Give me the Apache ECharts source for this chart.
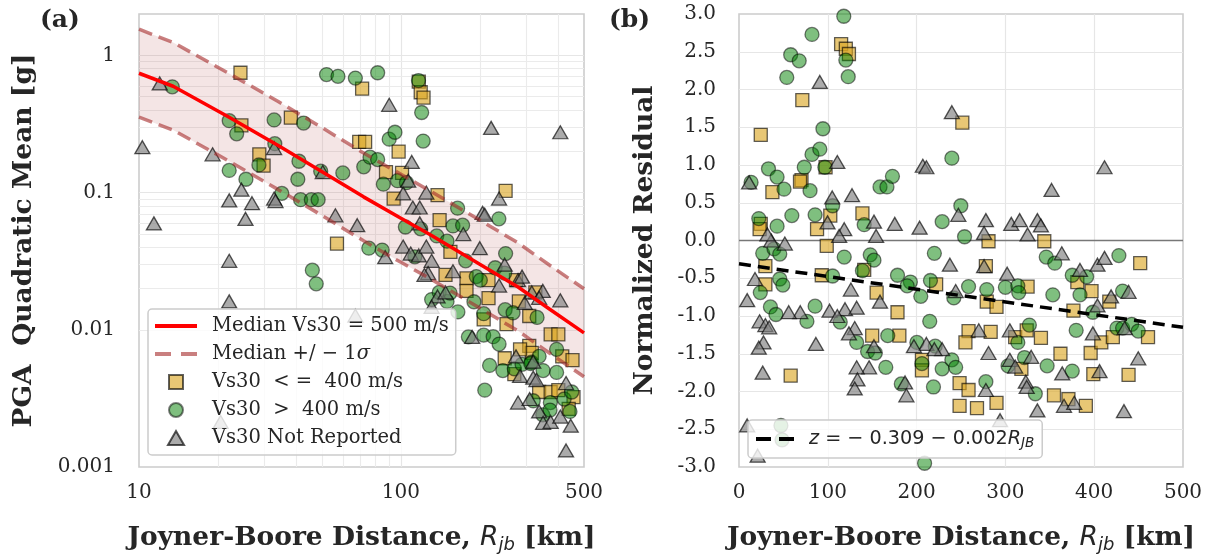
<!DOCTYPE html>
<html><head><meta charset="utf-8">
<script src="https://cdn.jsdelivr.net/npm/echarts@6/dist/echarts.min.js"></script>
<style>html,body{margin:0;padding:0;background:#fff}#c{width:1209px;height:554px}</style>
</head><body><div id="c"></div>
<script>
// ---------- Panel (a): PGA vs distance ----------
const pgaLowVs = [[24.4,0.746],[24.6,0.309],[38.0,0.351],[71.1,0.571],[69.3,0.234],[73.0,0.234],[98,0.199],[28.8,0.190],[29.9,0.157],[87.7,0.141],[101,0.139],[93.8,0.0904],[57,0.0424],[117,0.643],[119,0.538],[122,0.492],[138,0.0957],[140.5,0.063],[154.5,0.037],[148,0.0251],[178,0.0237],[178,0.0192],[216,0.023],[216,0.017],[251,0.103],[207,0.0119],[253,0.011],[275,0.023],[282,0.0161],[326,0.0187],[309,0.0126],[373,0.00925],[399,0.00925],[309,0.00763],[316,0.00679],[249,0.0062],[271,0.00475],[413,0.0064],[452,0.006],[337,0.00352],[373,0.00352],[399,0.00363],[456,0.00323],[437,0.00265],[285,0.0072]];
const pgaHighVs = [[13.4,0.589],[22.1,0.334],[23.6,0.268],[22.1,0.145],[25.6,0.125],[28.7,0.159],[32.8,0.338],[33.0,0.227],[35.1,0.0986],[42.5,0.321],[40.8,0.169],[40.4,0.125],[41.4,0.0887],[45.5,0.0887],[48.3,0.0887],[45.9,0.0272],[47.5,0.0216],[49.4,0.143],[52,0.724],[57.5,0.703],[67,0.682],[81.5,0.746],[60,0.139],[72.1,0.154],[76.2,0.181],[81.5,0.174],[75.4,0.0393],[84.8,0.0381],[90.2,0.245],[94.9,0.275],[85.7,0.115],[97,0.122],[105,0.118],[120,0.383],[121.6,0.237],[116.7,0.655],[104,0.0561],[119,0.0544],[113,0.034],[137,0.0483],[150,0.0442],[158,0.0571],[172,0.0578],[164.6,0.0769],[176.6,0.0318],[194,0.0244],[201,0.023],[229,0.0283],[249,0.0259],[251,0.0359],[236.6,0.0643],[131,0.0166],[140,0.0187],[150,0.0161],[154,0.0185],[165,0.0135],[190,0.016],[207,0.0131],[250,0.014],[268,0.0133],[181,0.00887],[207,0.00914],[225,0.0089],[237,0.00787],[218,0.0055],[245,0.00504],[271,0.0052],[290,0.0056],[315,0.0058],[209,0.00363],[313,0.00568],[349,0.00504],[393,0.00489],[393,0.0072],[320,0.00304],[372,0.00295],[420,0.00313],[449,0.00352],[348,0.0024],[371,0.0026],[442,0.00254],[331,0.0123],[337,0.0064]];
const pgaNoVs = [[10.3,0.214],[12.0,0.624],[11.4,0.0596],[19.1,0.19],[22.1,0.0877],[24.6,0.105],[27,0.0836],[25.5,0.0643],[22.1,0.0318],[22.1,0.0161],[20.5,0.00213],[32.8,0.211],[32.8,0.0904],[33.2,0.0867],[50.3,0.141],[56.2,0.0682],[68.1,0.0578],[67,0.0127],[90.2,0.436],[87.1,0.0338],[102,0.0986],[102,0.0404],[110,0.167],[106.6,0.122],[111,0.0778],[118,0.0778],[125,0.1],[118,0.0596],[109,0.0359],[117,0.0348],[125,0.0404],[131,0.0318],[127,0.0259],[123,0.0251],[138,0.0175],[148,0.0187],[158,0.0267],[173,0.0498],[200,0.0393],[205,0.0711],[209,0.069],[237,0.0904],[221,0.296],[406,0.275],[237,0.021],[249,0.0298],[280,0.023],[290,0.0244],[297,0.0157],[316,0.0187],[348,0.0192],[337,0.0171],[406,0.0164],[187,0.00887],[285,0.00461],[320,0.00448],[329,0.0043],[280,0.00295],[310,0.00313],[337,0.00254],[349,0.0021],[373,0.00213],[406,0.00233],[445,0.002],[427,0.00132],[427,0.00409],[131,0.0147],[275,0.0064],[320,0.00585]];

// model curve
const curveDist   = [10, 13.5, 22, 34, 50, 72, 100, 130, 200, 280, 370, 500];
const curveMedian = [0.74, 0.595, 0.355, 0.22, 0.142, 0.093, 0.065, 0.049, 0.030, 0.0205, 0.0141, 0.0095];
const curveUpper  = [1.55, 1.24, 0.74, 0.46, 0.297, 0.194, 0.136, 0.102, 0.063, 0.043, 0.0295, 0.0199];
const curveLower  = [0.354, 0.285, 0.17, 0.105, 0.068, 0.0445, 0.031, 0.0234, 0.0144, 0.0098, 0.00675, 0.00455];

// minor grid positions of the log panel
const minorX = [20,30,40,50,60,70,80,90,200,300,400];
const minorY = [0.002,0.003,0.004,0.005,0.006,0.007,0.008,0.009,0.02,0.03,0.04,0.05,0.06,0.07,0.08,0.09,0.2,0.3,0.4,0.5,0.6,0.7,0.8,0.9];

// ---------- Panel (b): normalized residuals ----------
const resLowVs = [[24.5,1.40],[71.3,1.86],[115,2.60],[120.3,2.54],[123.8,2.47],[251.5,1.56],[37.6,0.64],[70.4,0.80],[68.7,0.78],[97.5,0.97],[24.5,0.22],[23.2,0.15],[87.9,0.15],[102.8,0.33],[139,0.36],[98.8,-0.07],[29.7,-0.34],[29.7,-0.58],[93.2,-0.46],[141,-0.39],[155,-0.69],[222,-0.58],[281,-0.01],[278,-0.34],[279,-0.81],[290,-0.88],[343.8,-0.01],[325,-0.61],[381,-0.55],[397,-0.67],[376.6,-0.93],[417,-0.81],[451.8,-0.30],[178.5,-0.95],[150,-1.26],[180.6,-1.26],[258.5,-1.2],[255,-1.35],[283.4,-1.21],[311,-1.28],[324,-1.19],[340,-1.29],[362,-1.5],[396,-1.49],[408,-1.35],[421,-1.28],[460.6,-1.28],[399,-1.77],[438.7,-1.78],[58.2,-1.79],[206,-1.58],[206,-1.72],[248.4,-1.89],[258.5,-1.98],[248.4,-2.19],[268,-2.22],[290,-2.15],[318,-1.70],[354.7,-2.05],[371,-2.1],[390.6,-2.19]];
const resHighVs = [[118,2.97],[82.2,2.73],[58.2,2.46],[67.8,2.38],[53.8,2.16],[120.3,2.39],[123,2.17],[94.5,1.48],[82.2,1.14],[91,1.21],[73.5,0.97],[96.7,0.97],[33.2,0.95],[42.9,0.84],[13.6,0.77],[50.7,0.68],[80,0.66],[158.8,0.71],[166.6,0.71],[172.8,0.85],[239.7,1.09],[249.8,0.46],[59.5,0.33],[85.7,0.34],[22.3,0.29],[42.9,0.19],[26.7,-0.17],[39.4,-0.11],[45.9,-0.18],[45.9,-0.51],[49.4,-0.59],[24,-0.69],[35.4,-0.88],[41.6,-0.98],[76.5,-1.07],[85.7,-0.87],[105.4,-0.47],[105.4,0.46],[118.5,-0.22],[114,-1.08],[141,0.21],[139,-0.40],[147.8,-0.19],[152,-0.26],[132.5,-1.35],[144.8,-1.47],[153.5,-1.49],[165.3,-1.68],[167.5,-1.26],[178.5,-0.46],[193,-0.55],[189.4,-0.6],[204.7,-0.74],[215.6,-0.53],[220,-0.17],[228.8,0.25],[241.9,-0.76],[254,0.05],[258.5,-0.61],[214.8,-1.07],[182.8,-1.90],[219,-1.94],[200.3,-1.35],[206,-1.63],[221,-1.40],[228.8,-1.70],[239.7,-1.58],[244,-1.68],[278,-1.87],[279,-0.65],[300,-0.62],[314,-0.6],[315,-0.69],[303,-1.66],[314,-1.35],[321.5,-1.55],[327,-1.12],[333.7,-2.03],[346,-0.22],[355.6,-0.30],[347,-1.66],[353.4,-0.72],[375.3,-1.73],[375.3,-0.46],[391.5,-0.48],[384,-0.72],[398.5,-0.95],[379.7,-1.19],[427.8,-0.20],[425.6,-1.16],[432,-1.16],[442.2,-1.11],[449.6,-1.2],[432,-0.67],[209,-2.95],[47.2,-2.45],[48.5,-2.64]];
const resNoVs = [[91,2.10],[11.4,0.77],[110.7,1.04],[105,0.57],[127.3,0.60],[99.7,0.24],[118.5,0.15],[112.8,0.06],[152,0.25],[154.4,0.06],[175.4,0.22],[203.4,0.17],[207,0.99],[211,0.97],[239.7,1.70],[247,0.34],[278,0.27],[276,0.10],[306.6,0.22],[316,0.27],[325,0.08],[336,0.27],[340,0.20],[352,0.67],[411.6,0.97],[363.5,-0.17],[384,-0.39],[403.7,-0.32],[411.6,-0.23],[302,-0.44],[276,-0.34],[237.5,-0.32],[244,-0.67],[403.7,-0.86],[419,-0.74],[438.7,-0.68],[434.3,-1.16],[449.6,-1.56],[398.5,-1.23],[406,-1.73],[364,-1.76],[366,-2.19],[377.5,-2.15],[433.5,-2.26],[336,-2.25],[323,-1.87],[324,-1.94],[305,-1.58],[311,-1.67],[329,-1.54],[281,-1.49],[278,-1.98],[270,-1.19],[305,-1.19],[228.8,-1.44],[211,-1.37],[220,-1.44],[197,-1.40],[187,-1.88],[188.5,-2.05],[158.8,-0.81],[152,-1.40],[146.5,-1.68],[132.5,-1.68],[133.4,-1.84],[130.3,-1.96],[130.3,-1.16],[123.8,-1.23],[119.4,-0.91],[132.5,-0.89],[126,-0.65],[102,-0.93],[110.7,-1.0],[86.6,-1.37],[69,-0.95],[56,-0.95],[51.6,-0.04],[36.3,0.0],[32,0.08],[9.2,-0.79],[18,-0.51],[23.2,-1.07],[29.7,-1.12],[34,-1.15],[27.6,-1.35],[22.3,-1.42],[26.7,-1.75],[9.2,-2.45],[21,-2.85],[294,-2.38]];
const fitLine  = [[0,-0.309],[500,-1.15]];
const zeroLine = [[0,0],[500,0]];

// ---------- styling ----------
const SERIF = 'DejaVu Serif', SANS = 'DejaVu Sans', TXT = '#262626';
const N_MED = 'Median Vs30 = 500 m/s', N_SIG = 'Median +/ − 1σ';
const N_LOW = 'Vs30  < =  400 m/s', N_HIGH = 'Vs30  >  400 m/s', N_NO = 'Vs30 Not Reported';
const N_FIT = 'fit';
const sq = {symbol:'rect', symbolSize:13, itemStyle:{color:'#daa520', borderColor:'#000', borderWidth:1.3, opacity:0.62}};
const ci = {symbol:'circle', symbolSize:14, itemStyle:{color:'#008000', borderColor:'#000', borderWidth:1.3, opacity:0.5}};
const tr = {symbol:'triangle', symbolSize:[15,13], itemStyle:{color:'#808080', borderColor:'#000', borderWidth:1.3, opacity:0.66}};
const gridLineStyle = {color:'#e6e6e6', width:1.2};
const xName = 'Joyner-Boore Distance, {r|R}{s|jb} [km]';
const nameStyle = {fontFamily:SERIF, fontWeight:'bold', fontSize:26.5, color:TXT, lineHeight:30,
  rich:{r:{fontFamily:SANS, fontStyle:'italic', fontWeight:'normal', fontSize:26.5, color:TXT, lineHeight:30},
        s:{fontFamily:SANS, fontStyle:'italic', fontWeight:'normal', fontSize:18, color:TXT, lineHeight:32, verticalAlign:'bottom'}}};
const lblStyle = {fontFamily:SERIF, fontSize:20, color:TXT};
const dashIcon = 'path://M0,0h15v4h-15zM23,0h15v4h-15z';
const panelStyle = {fontFamily:SERIF, fontWeight:'bold', fontSize:25, color:TXT};

const chart = echarts.init(document.getElementById('c'), null, {renderer:'canvas'});
chart.setOption({
  animation:false,
  backgroundColor:'#fff',
  title:[
    {text:'(a)', left:40, top:8, padding:0, textStyle:panelStyle},
    {text:'(b)', left:609, top:8, padding:0, textStyle:panelStyle}
  ],
  grid:[
    {left:139, top:14, width:445, height:453, show:true, backgroundColor:'#fff', borderColor:'#cccccc', borderWidth:1.6, outerBoundsMode:'none'},
    {left:739, top:14, width:444, height:453, show:true, backgroundColor:'#fff', borderColor:'#cccccc', borderWidth:1.6, outerBoundsMode:'none'}
  ],
  xAxis:[
    {type:'log', logBase:10, gridIndex:0, min:10, max:500,
     axisLine:{show:false}, axisTick:{show:false},
     splitLine:{show:true, showMinLine:false, showMaxLine:false, lineStyle:gridLineStyle},
     axisLabel:Object.assign({margin:16, showMinLabel:true, showMaxLabel:true, formatter:v=>String(+(+v).toPrecision(6))}, lblStyle),
     name:xName, nameLocation:'middle', nameGap:55, nameTextStyle:nameStyle},
    {type:'value', gridIndex:1, min:0, max:500, interval:100,
     axisLine:{show:false}, axisTick:{show:false},
     splitLine:{show:true, showMinLine:false, showMaxLine:false, lineStyle:gridLineStyle},
     axisLabel:Object.assign({margin:16, interval:0}, lblStyle),
     name:xName, nameLocation:'middle', nameGap:55, nameTextStyle:nameStyle}
  ],
  yAxis:[
    {type:'log', logBase:10, gridIndex:0, min:0.001, max:2,
     axisLine:{show:false}, axisTick:{show:false},
     splitLine:{show:true, showMinLine:false, showMaxLine:false, lineStyle:gridLineStyle},
     axisLabel:Object.assign({margin:24, showMaxLabel:false, formatter:v=>String(+(+v).toPrecision(6))}, lblStyle),
     name:'PGA  Quadratic Mean [g]', nameLocation:'middle', nameGap:100, nameTextStyle:nameStyle},
    {type:'value', gridIndex:1, min:-3, max:3, interval:0.5,
     axisLine:{show:false}, axisTick:{show:false},
     splitLine:{show:true, showMinLine:false, showMaxLine:false, lineStyle:gridLineStyle},
     axisLabel:Object.assign({margin:23, interval:0, formatter:v=>(+v).toFixed(1)}, lblStyle),
     name:'Normalized Residual', nameLocation:'middle', nameGap:79, nameTextStyle:nameStyle}
  ],
  legend:[
    {show:true, orient:'vertical', left:148, top:309, padding:7, itemGap:8, itemWidth:42, itemHeight:14,
     backgroundColor:'rgba(255,255,255,0.8)', borderColor:'#cccccc', borderWidth:1.5, borderRadius:4,
     selectedMode:false,
     data:[{name:N_MED, icon:'path://M0,0h42v4h-42z'},
           {name:N_SIG, icon:'path://M0,0h16v4h-16zM26,0h16v4h-16z'},
           {name:N_LOW, icon:'path://M0,0h10v10h-10z'},
           {name:N_HIGH, icon:'circle'},
           {name:N_NO, icon:'path://M5,0L10,8.7L0,8.7z'}],
     formatter:n=> n===N_SIG ? 'Median +/ − 1{i|σ}' : n,
     textStyle:{fontFamily:SERIF, fontSize:19.5, color:TXT, lineHeight:20, padding:[0,0,0,10],
       rich:{i:{fontFamily:SERIF, fontStyle:'italic', fontSize:19.5, color:TXT, lineHeight:20}}}},
    {show:true, orient:'vertical', left:748, top:420, padding:8, itemWidth:38, itemHeight:14,
     backgroundColor:'rgba(255,255,255,0.8)', borderColor:'#cccccc', borderWidth:1.5, borderRadius:4,
     selectedMode:false,
     data:[{name:N_FIT, icon:dashIcon}],
     formatter:()=> '{i|z} = − 0.309 − 0.002{i|R}{s|JB}',
     textStyle:{fontFamily:SANS, fontSize:19.2, color:TXT, lineHeight:20, padding:[0,0,0,10],
       rich:{i:{fontFamily:SANS, fontStyle:'italic', fontSize:19.2, color:TXT, lineHeight:20},
             s:{fontFamily:SANS, fontStyle:'italic', fontSize:13.5, color:TXT, lineHeight:22, verticalAlign:'bottom'}}}}
  ],
  series:[
    // minor log grid
    {type:'line', name:'_grid', xAxisIndex:0, yAxisIndex:0, data:[], silent:true, z:1,
     markLine:{silent:true, z:1, symbol:['none','none'], label:{show:false}, animation:false,
       lineStyle:{color:'#ebebeb', width:1.1, type:'solid'}, emphasis:{disabled:true},
       data:minorX.map(v=>({xAxis:v})).concat(minorY.map(v=>({yAxis:v})))}},
    // sigma band
    {type:'custom', name:'_band', xAxisIndex:0, yAxisIndex:0, z:2, silent:true,
     data:curveDist.map((d,i)=>[d, curveMedian[i]]),
     renderItem:(params, api)=>{
       if (params.dataIndex !== 0) return null;
       const pts = [];
       for (let i=0;i<curveDist.length;i++) pts.push(api.coord([curveDist[i], curveUpper[i]]));
       for (let i=curveDist.length-1;i>=0;i--) pts.push(api.coord([curveDist[i], curveLower[i]]));
       return {type:'polygon', shape:{points:pts}, style:{fill:'rgba(165,42,42,0.12)'}};
     }},
    Object.assign({type:'scatter', name:N_LOW, xAxisIndex:0, yAxisIndex:0, z:3, data:pgaLowVs}, sq),
    Object.assign({type:'scatter', name:N_HIGH, xAxisIndex:0, yAxisIndex:0, z:3, data:pgaHighVs}, ci),
    Object.assign({type:'scatter', name:N_NO, xAxisIndex:0, yAxisIndex:0, z:3, data:pgaNoVs}, tr),
    {type:'line', name:N_SIG, xAxisIndex:0, yAxisIndex:0, z:4, symbol:'none', data:curveDist.map((d,i)=>[d, curveUpper[i]]),
     color:'#a52a2a', itemStyle:{color:'#a52a2a', opacity:0.6}, lineStyle:{color:'#a52a2a', width:3.5, type:[14,7], opacity:0.6}},
    {type:'line', name:N_SIG, xAxisIndex:0, yAxisIndex:0, z:4, symbol:'none', data:curveDist.map((d,i)=>[d, curveLower[i]]),
     color:'#a52a2a', itemStyle:{color:'#a52a2a', opacity:0.6}, lineStyle:{color:'#a52a2a', width:3.5, type:[14,7], opacity:0.6}},
    {type:'line', name:N_MED, xAxisIndex:0, yAxisIndex:0, z:5, symbol:'none', data:curveDist.map((d,i)=>[d, curveMedian[i]]),
     color:'#ff0000', itemStyle:{color:'#ff0000'}, lineStyle:{color:'#ff0000', width:3.5}},
    // panel (b)
    {type:'line', name:'_zero', xAxisIndex:1, yAxisIndex:1, z:2, symbol:'none', silent:true, data:zeroLine,
     lineStyle:{color:'#777777', width:1.5}},
    Object.assign({type:'scatter', name:N_LOW, xAxisIndex:1, yAxisIndex:1, z:3, data:resLowVs}, sq),
    Object.assign({type:'scatter', name:N_HIGH, xAxisIndex:1, yAxisIndex:1, z:3, data:resHighVs}, ci),
    Object.assign({type:'scatter', name:N_NO, xAxisIndex:1, yAxisIndex:1, z:3, data:resNoVs}, tr),
    {type:'line', name:N_FIT, xAxisIndex:1, yAxisIndex:1, z:5, symbol:'none', data:fitLine,
     color:'#000', itemStyle:{color:'#000'}, lineStyle:{color:'#000', width:3.5, type:[12,7]}}
  ]
});
</script>
</body></html>
